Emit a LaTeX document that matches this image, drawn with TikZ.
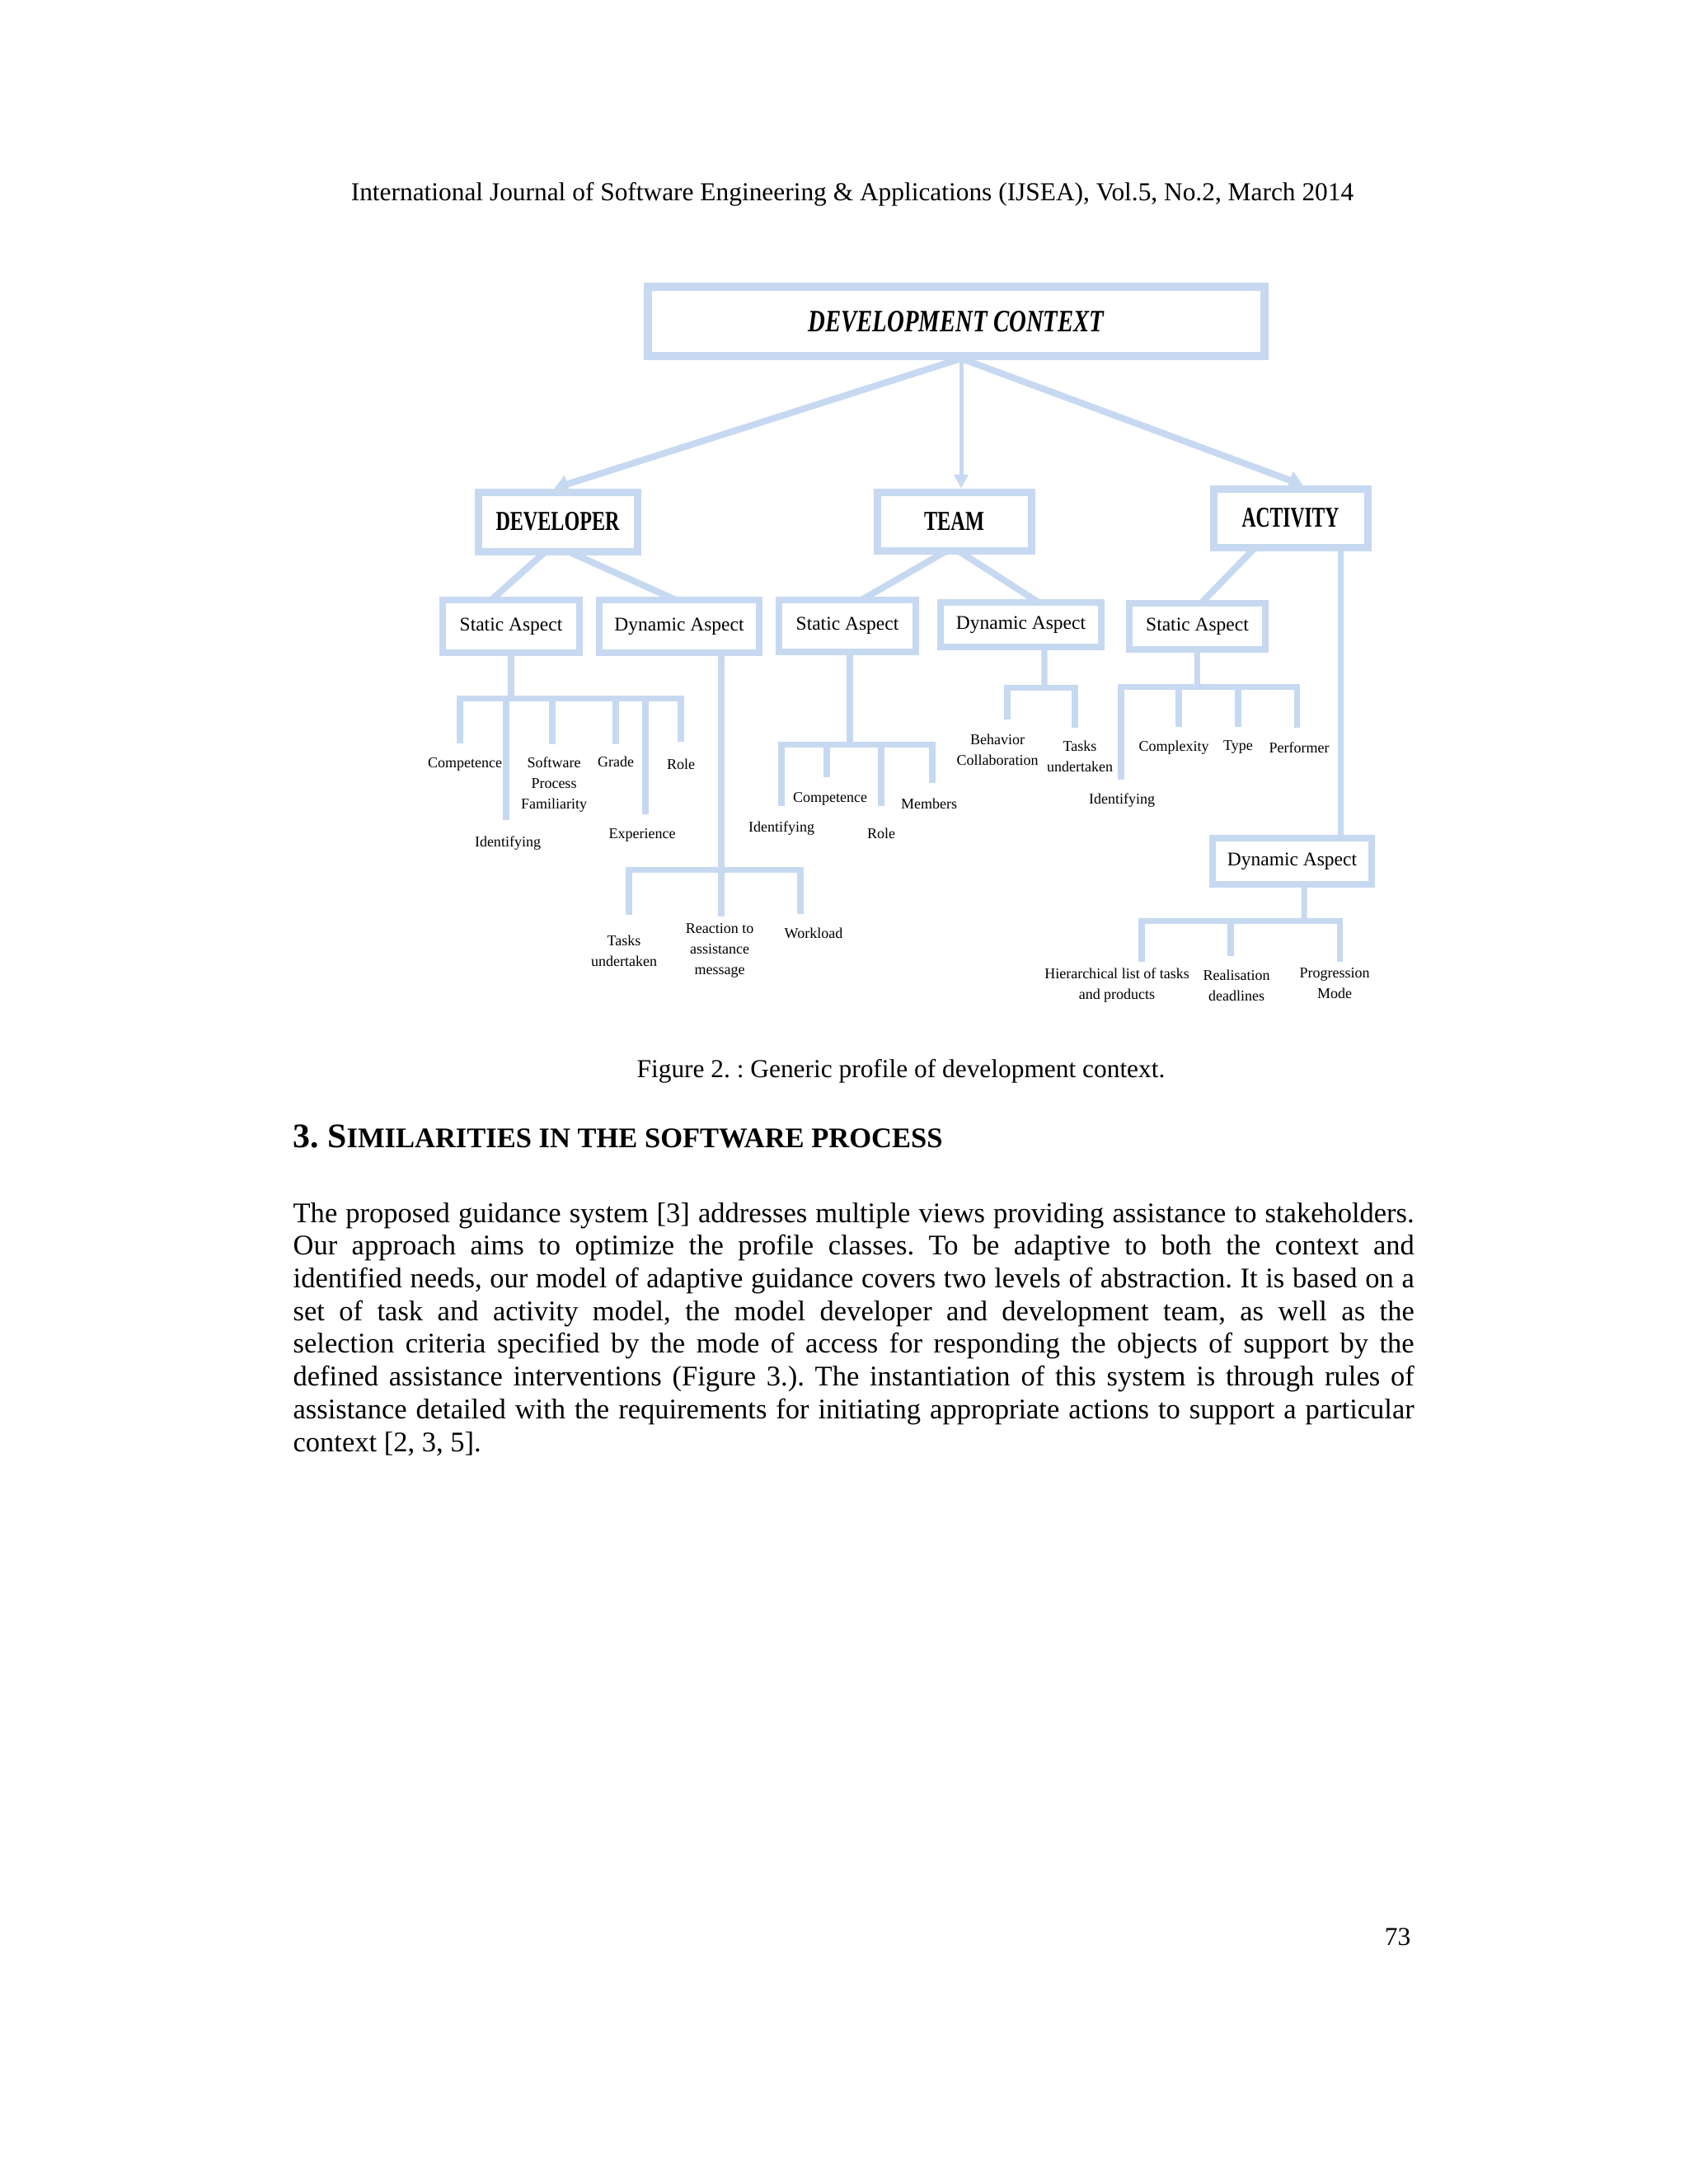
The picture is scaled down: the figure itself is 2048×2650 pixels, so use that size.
\documentclass[tikz,border=0pt]{standalone}
\usepackage{fontspec}
\setmainfont{Liberation Serif}
\usepackage{graphicx}
\usetikzlibrary{arrows.meta,calc}
\definecolor{lb}{RGB}{198,217,241}
\frenchspacing
\begin{document}
\begin{tikzpicture}[x=0.29883bp,y=-0.29883bp,
  bx/.style={draw=lb, fill=white, line width=2.5bp, inner sep=0pt, outer sep=0pt, rectangle},
  hdbox/.style={bx, line width=2.69bp, minimum height=21.3bp},
  aspbox/.style={bx, font=\fontsize{7.02bp}{8bp}\selectfont},
  tree/.style={draw=lb, line width=2.1bp},
  link/.style={draw=lb, line width=2.39bp},
  lbl/.style={font=\fontsize{5.38bp}{7.47bp}\selectfont, align=center, inner sep=0pt},
  bigarrow/.style={link, -{Triangle[length=5bp,width=6.5bp]}},
  thinarrow/.style={draw=lb, line width=1.5bp, -{Triangle[length=5bp,width=5bp]}},
  txt/.style={inner sep=0pt, font=\fontsize{9.38bp}{11bp}\selectfont}
]
\useasboundingbox[fill=white] (0,0) rectangle (2048,2650);

% ---------- page text ----------
\node[txt, anchor=base] (header) at (1034,243) {International Journal of Software Engineering \& Applications (IJSEA), Vol.5, No.2, March 2014};
\node[txt, anchor=base west] (caption) at (772,1307) {Figure 2. : Generic profile of development context.};
\node[inner sep=0pt, anchor=base west, font=\bfseries] (heading) at (355,1392)
  {{\fontsize{12.49bp}{14bp}\selectfont 3. S}{\fontsize{10.31bp}{12bp}\selectfont IMILARITIES IN THE SOFTWARE PROCESS}};
% base anchor of this multi-line node is the baseline of its last line
\node[inner sep=0pt, anchor=base west, align=left, font=\fontsize{10.31bp}{11.86bp}\selectfont] (para) at (355,1761)
  {\hbox to 406.4bp{The proposed guidance system [3] addresses multiple views providing assistance to stakeholders.}\\
   \hbox to 406.4bp{Our approach aims to optimize the profile classes. To be adaptive to both the context and}\\
   \hbox to 406.4bp{identified needs, our model of adaptive guidance covers two levels of abstraction. It is based on a}\\
   \hbox to 406.4bp{set of task and activity model, the model developer and development team, as well as the}\\
   \hbox to 406.4bp{selection criteria specified by the mode of access for responding the objects of support by the}\\
   \hbox to 406.4bp{defined assistance interventions (Figure 3.). The instantiation of this system is through rules of}\\
   \hbox to 406.4bp{assistance detailed with the requirements for initiating appropriate actions to support a particular}\\
   context [2, 3, 5].};
\node[txt, anchor=base east] (pagenum) at (1712,2360) {73};

% ---------- boxes ----------
\node[bx, line width=2.99bp, minimum width=223.52bp, minimum height=25.10bp] (dc) at (1160,390)
  {\resizebox{107.3bp}{7.47bp}{\bfseries\itshape DEVELOPMENT CONTEXT}};
\node[hdbox, minimum width=57.67bp, minimum height=21.52bp] (dev) at (676.5,633)
  {\resizebox{44.82bp}{6.57bp}{\bfseries DEVELOPER}};
\node[hdbox, minimum width=55.88bp, minimum height=21.22bp] (team) at (1157.5,632.5)
  {\resizebox{21.81bp}{6.57bp}{\bfseries TEAM}};
\node[hdbox, minimum width=55.88bp, minimum height=21.22bp] (act) at (1565.5,628.5)
  {\resizebox{35.26bp}{6.87bp}{\bfseries ACTIVITY}};

\node[aspbox, minimum width=49.61bp, minimum height=19.13bp] (devS) at (620,760) {Static Aspect};
\node[aspbox, minimum width=57.97bp, minimum height=19.13bp] (devD) at (824,760) {Dynamic Aspect};
\node[aspbox, minimum width=49.61bp, minimum height=18.83bp] (teamS) at (1028,759.5) {Static Aspect};
\node[aspbox, minimum width=58.27bp, minimum height=16.14bp] (teamD) at (1238.5,758) {Dynamic Aspect};
\node[aspbox, minimum width=49.31bp, minimum height=16.73bp] (actS) at (1452.5,760) {Static Aspect};
\node[aspbox, minimum width=57.67bp, minimum height=16.73bp] (actD) at (1567.5,1045) {Dynamic Aspect};

% ---------- top connectors ----------
\coordinate (hub) at ($(dc.south)+(6,3)$);
\draw[bigarrow] (hub) -- ($(dev.north)+(-4,-4.5)$);
\draw[thinarrow] (hub) -- ($(hub |- team.north)+(0,-4.5)$);
\draw[bigarrow] (hub) -- ($(act.north)+(15,-4.5)$);

\draw[link] ($(dev.south)+(-14.5,0)$) -- ($(devS.north)+(-24,0)$);
\draw[link] ($(dev.south)+(12.5,0)$) -- ($(devD.north)+(-4,0)$);
\draw[link] ($(team.south)+(-8.5,0)$) -- ($(teamS.north)+(17,0)$);
\draw[link] ($(team.south)+(4.5,0)$) -- ($(teamD.north)+(21.5,0)$);
\draw[link] ($(act.south)+(-42.5,0)$) -- ($(actS.north)+(4.5,0)$);
\coordinate (actR) at ($(act.south)+(60.5,0)$);
\draw[tree] (actR) -- (actR |- actD.north);

% ---------- labels ----------
% developer static
\node[lbl] (dsComp) at (564,927) {Competence};
\node[lbl] (dsIdent) at (616,1023) {Identifying};
\node[lbl] (dsSPF) at (672,952) {Software\\Process\\Familiarity};
\node[lbl] (dsGrade) at (747,924) {Grade};
\node[lbl] (dsExp) at (779,1013) {Experience};
\node[lbl] (dsRole) at (826,927) {Role};
% developer dynamic
\node[lbl] (ddTasks) at (757,1154) {Tasks\\undertaken};
\node[lbl] (ddReact) at (873,1153) {Reaction to\\assistance\\message};
\node[lbl] (ddWork) at (987,1132) {Workload};
% team static
\node[lbl] (tsIdent) at (948,1005) {Identifying};
\node[lbl] (tsComp) at (1007,969) {Competence};
\node[lbl] (tsRole) at (1069,1011) {Role};
\node[lbl] (tsMem) at (1127,975) {Members};
% team dynamic
\node[lbl] (tdBeh) at (1210,910) {Behavior\\Collaboration};
\node[lbl] (tdTasks) at (1310,918) {Tasks\\undertaken};
% activity static
\node[lbl] (asIdent) at (1361,971) {Identifying};
\node[lbl] (asComp) at (1424,907) {Complexity};
\node[lbl] (asType) at (1502,907) {Type};
\node[lbl] (asPerf) at (1576,907) {Performer};
% activity dynamic
\node[lbl] (adHier) at (1355,1196) {Hierarchical list of tasks\\and products};
\node[lbl] (adReal) at (1500,1196) {Realisation\\deadlines};
\node[lbl] (adProg) at (1619,1193) {Progression\\Mode};

% ---------- trees ----------
% developer static
\coordinate (dsBar) at (620,847);
\coordinate (ds1) at (558,902);
\coordinate (ds2) at (614,995);
\coordinate (ds3) at (670,903);
\coordinate (ds4) at (747,903);
\coordinate (ds5) at (783,988);
\coordinate (ds6) at (826,900);
\draw[tree] (devS.south) -- (dsBar);
\draw[tree] (ds1) -- (ds1 |- dsBar) -- (ds6 |- dsBar) -- (ds6);
\foreach \i in {2,3,4,5} \draw[tree] (ds\i |- dsBar) -- (ds\i);

% developer dynamic
\coordinate (ddTop) at ($(devD.south)+(51,0)$);
\coordinate (ddBar) at (875,1055);
\coordinate (dd1) at (763,1110);
\coordinate (dd2) at (875,1112);
\coordinate (dd3) at (971,1109);
\draw[tree] (ddTop) -- (ddTop |- ddBar);
\draw[tree] (dd1) -- (dd1 |- ddBar) -- (dd3 |- ddBar) -- (dd3);
\draw[tree] (dd2 |- ddBar) -- (dd2);

% team static
\coordinate (tsBar) at (1031,903);
\coordinate (ts1) at (948,978);
\coordinate (ts2) at (1003,943);
\coordinate (ts3) at (1069,978);
\coordinate (ts4) at (1131,950);
\draw[tree] ($(teamS.south)+(3,0)$) -- (tsBar);
\draw[tree] (ts1) -- (ts1 |- tsBar) -- (ts4 |- tsBar) -- (ts4);
\foreach \i in {2,3} \draw[tree] (ts\i |- tsBar) -- (ts\i);

% team dynamic
\coordinate (tdTop) at ($(teamD.south)+(28.5,0)$);
\coordinate (tdBar) at (1267,834);
\coordinate (td1) at (1222,873);
\coordinate (td2) at (1304,883);
\draw[tree] (tdTop) -- (tdBar);
\draw[tree] (td1) -- (td1 |- tdBar) -- (td2 |- tdBar) -- (td2);

% activity static
\coordinate (asBar) at (1451,833);
\coordinate (as1) at (1360,946);
\coordinate (as2) at (1430,882);
\coordinate (as3) at (1502,882);
\coordinate (as4) at (1573,883);
\draw[tree] (actS.south) -- (actS.south |- asBar);
\draw[tree] (as1) -- (as1 |- asBar) -- (as4 |- asBar) -- (as4);
\foreach \i in {2,3} \draw[tree] (as\i |- asBar) -- (as\i);

% activity dynamic
\coordinate (adTop) at ($(actD.south)+(14.5,0)$);
\coordinate (adBar) at (1582,1117);
\coordinate (ad1) at (1385,1167);
\coordinate (ad2) at (1493,1160);
\coordinate (ad3) at (1625,1167);
\draw[tree] (adTop) -- (adBar);
\draw[tree] (ad1) -- (ad1 |- adBar) -- (ad3 |- adBar) -- (ad3);
\draw[tree] (ad2 |- adBar) -- (ad2);
\end{tikzpicture}
\end{document}
